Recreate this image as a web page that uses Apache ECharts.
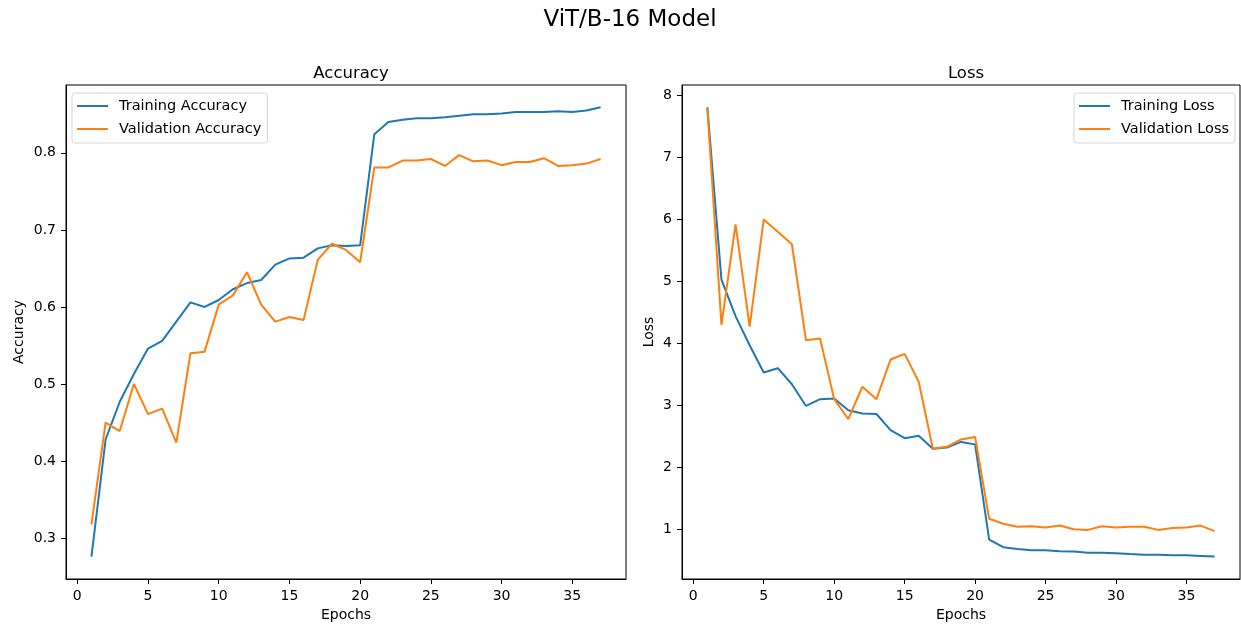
<!DOCTYPE html>
<html>
<head>
<meta charset="utf-8">
<script src="https://cdn.jsdelivr.net/npm/echarts@6/dist/echarts.min.js"></script>
<style>
html,body{margin:0;padding:0;background:#fff;}
#chart{width:1241px;height:627px;}
</style>
</head>
<body>
<div id="chart"></div>
<script>
const epochs = Array.from({length: 37}, (_, i) => i + 1);
const trainAcc = [0.276,0.428,0.477,0.513,0.546,0.556,0.581,0.606,0.600,0.609,0.623,0.631,0.635,0.655,0.663,0.664,0.676,0.680,0.679,0.680,0.824,0.840,0.843,0.845,0.845,0.846,0.848,0.850,0.850,0.851,0.853,0.853,0.853,0.854,0.853,0.855,0.859];
const valAcc = [0.318,0.450,0.439,0.500,0.461,0.468,0.424,0.540,0.542,0.603,0.615,0.645,0.603,0.581,0.587,0.583,0.661,0.682,0.674,0.658,0.781,0.781,0.790,0.790,0.792,0.783,0.797,0.789,0.790,0.784,0.788,0.788,0.793,0.783,0.784,0.786,0.792];
const trainLoss = [7.81,5.03,4.44,3.97,3.53,3.60,3.34,2.99,3.10,3.11,2.92,2.87,2.86,2.60,2.47,2.51,2.30,2.32,2.41,2.37,0.834,0.71,0.68,0.66,0.66,0.645,0.64,0.62,0.62,0.615,0.60,0.59,0.59,0.58,0.58,0.57,0.56];
const valLoss = [7.79,4.30,5.92,4.27,6.00,5.80,5.60,4.05,4.08,3.10,2.78,3.30,3.10,3.74,3.83,3.38,2.30,2.33,2.45,2.49,1.17,1.09,1.04,1.05,1.03,1.06,1.00,0.99,1.05,1.03,1.04,1.04,0.99,1.02,1.03,1.06,0.97];
const xTicks = [0,5,10,15,20,25,30,35];
const accTicks = [0.3,0.4,0.5,0.6,0.7,0.8];
const lossTicks = [1,2,3,4,5,6,7,8];

const FONT = 'DejaVu Sans';
const BLUE = '#1f77b4', ORANGE = '#ff7f0e';
const FS = 14;

function pairs(ys){ return epochs.map((e,i)=>[e, ys[i]]); }

function xAxisCfg(gi){
  return {
    type:'value', gridIndex:gi, min:-0.8, max:38.8,
    name:'Epochs', nameLocation:'middle', nameGap:29,
    nameTextStyle:{fontFamily:FONT,fontSize:FS,color:'#000'},
    axisLine:{show:true,onZero:false,lineStyle:{color:'#000',width:1}},
    axisTick:{show:true,length:5,inside:false,lineStyle:{color:'#000',width:1},customValues:xTicks},
    axisLabel:{fontFamily:FONT,fontSize:FS,color:'#000',margin:10,customValues:xTicks,formatter:v=>String(v)},
    splitLine:{show:false}
  };
}
function yAxisCfg(gi,name,min,max,ticks,gap,fmt){
  return {
    type:'value', gridIndex:gi, min:min, max:max,
    name:name, nameLocation:'middle', nameGap:gap, nameRotate:90,
    nameTextStyle:{fontFamily:FONT,fontSize:FS,color:'#000'},
    axisLine:{show:true,onZero:false,lineStyle:{color:'#000',width:1}},
    axisTick:{show:true,length:5,inside:false,lineStyle:{color:'#000',width:1},customValues:ticks},
    axisLabel:{fontFamily:FONT,fontSize:FS,color:'#000',margin:10,customValues:ticks,formatter:fmt},
    splitLine:{show:false}
  };
}
function legendCfg(left, names){
  return {
    orient:'vertical', left:left, top:93,
    data:names.map(n=>({name:n, icon:'rect'})),
    itemWidth:31, itemHeight:2, itemGap:7,
    padding:[5,6,6,5],
    backgroundColor:'rgba(255,255,255,0.8)',
    borderColor:'#d5d5d5', borderWidth:1, borderRadius:3,
    textStyle:{fontFamily:FONT,fontSize:14.5,color:'#000',lineHeight:16,padding:[0,0,0,6]}
  };
}
function lineSeries(name,xi,yi,data,color){
  return {
    name:name, type:'line', xAxisIndex:xi, yAxisIndex:yi, data:pairs(data),
    showSymbol:false, symbol:'none', lineStyle:{color:color,width:2}, itemStyle:{color:color},
    animation:false
  };
}

const chart = echarts.init(document.getElementById('chart'), null, {renderer:'canvas'});
chart.setOption({
  animation:false,
  backgroundColor:'#fff',
  title:[
    {text:'ViT/B-16 Model', left:625, top:4, textAlign:'center', textStyle:{fontFamily:FONT,fontSize:23,fontWeight:'normal',color:'#000'}},
    {text:'Accuracy', left:346, top:60, textAlign:'center', textStyle:{fontFamily:FONT,fontSize:16.5,fontWeight:'normal',color:'#000'}},
    {text:'Loss', left:961, top:60, textAlign:'center', textStyle:{fontFamily:FONT,fontSize:16.5,fontWeight:'normal',color:'#000'}}
  ],
  grid:[
    {left:66, top:85, width:560, height:494, show:true, borderColor:'#000', borderWidth:1, backgroundColor:'transparent'},
    {left:682, top:85, width:558, height:494, show:true, borderColor:'#000', borderWidth:1, backgroundColor:'transparent'}
  ],
  xAxis:[xAxisCfg(0), xAxisCfg(1)],
  yAxis:[
    yAxisCfg(0,'Accuracy',0.247,0.888,accTicks,40,v=>v.toFixed(1)),
    yAxisCfg(1,'Loss',0.1975,8.17,lossTicks,26,v=>String(v))
  ],
  legend:[
    legendCfg(72,['Training Accuracy','Validation Accuracy']),
    legendCfg(1074,['Training Loss','Validation Loss'])
  ],
  series:[
    lineSeries('Training Accuracy',0,0,trainAcc,BLUE),
    lineSeries('Validation Accuracy',0,0,valAcc,ORANGE),
    lineSeries('Training Loss',1,1,trainLoss,BLUE),
    lineSeries('Validation Loss',1,1,valLoss,ORANGE)
  ]
});
</script>
</body>
</html>
